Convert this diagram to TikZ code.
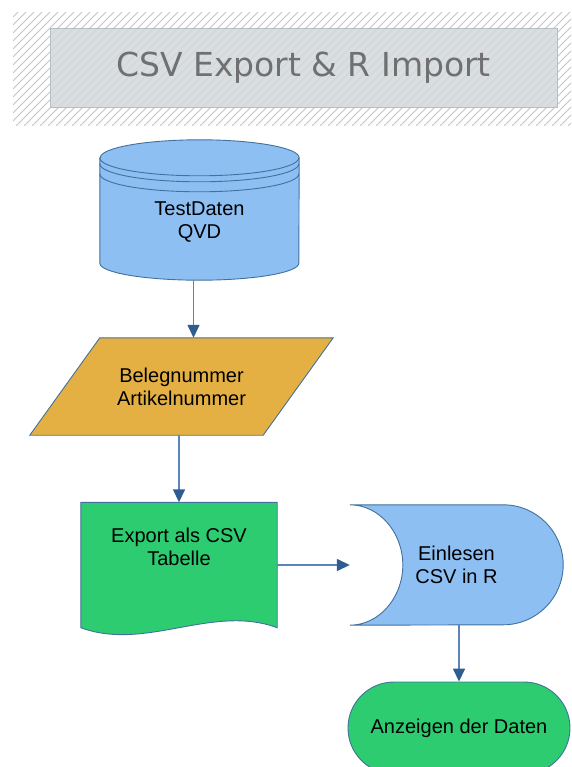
\documentclass[tikz,border=0pt]{standalone}
\usepackage{fontspec}
\setmainfont{Liberation Sans}
\newfontfamily\titlefont{DejaVu Sans}
\usepackage{tikz}
\usetikzlibrary{arrows.meta,positioning,calc}
\definecolor{dbblue}{HTML}{8EBFF3}
\definecolor{edgeblue}{HTML}{41719C}
\definecolor{linkblue}{HTML}{5B85B8}
\definecolor{tipblue}{HTML}{2F5D92}
\definecolor{gold}{HTML}{E5B043}
\definecolor{flowgreen}{HTML}{2ECC71}
\definecolor{titlefill}{HTML}{D3D8DB}
\definecolor{titleedge}{HTML}{B4BEC3}
\definecolor{hatchgray}{HTML}{C4C4C4}
\definecolor{titletext}{HTML}{707070}

\begin{document}
\begin{tikzpicture}[
  x=1pt, y=-1pt,
  font=\fontsize{20}{23}\selectfont,
  frame/.style={inner sep=0pt},
  outline/.style={draw=edgeblue, line width=0.9pt},
  txt/.style={align=center, inner sep=0pt},
  acc/.style={draw=linkblue, line width=1.5pt, -{Triangle[length=13pt,width=12pt,color=tipblue]}}
]
\clip (0,0) rectangle (571,767);

\begin{scope}
  \clip (13,12) rectangle (571,126);
  \foreach \i in {-120,-112,...,580}
    \draw[hatchgray, line width=0.8pt] (\i,126) -- ++(114,-114);
\end{scope}
\node[frame, draw=titleedge, fill=titlefill, fill opacity=0.85, text opacity=1,
  text=titletext, minimum width=507pt, minimum height=79pt,
  font=\titlefont\fontsize{33}{40}\selectfont] (title) at (303.5,67.5) {CSV Export \& R Import};

\node[frame, minimum width=199pt, minimum height=140pt] (db)     at (199.5,210)   {};
\node[frame, minimum width=303pt, minimum height=97pt]  (input)  at (181.5,386.5) {};
\node[frame, minimum width=196pt, minimum height=125pt] (export) at (179,565)     {};
\node[frame, minimum width=213pt, minimum height=120pt] (import) at (456.5,565)   {};

\path[outline, fill=dbblue] ($(db.north west)+(0,18)$) -- ($(db.south west)+(0,-17)$)
  arc[start angle=180, end angle=360, x radius=99.5pt, y radius=17pt]
  -- ($(db.north east)+(0,18)$)
  arc[start angle=0, end angle=180, x radius=99.5pt, y radius=18pt] -- cycle;
\draw[outline] ($(db.north west)+(0,18)$) arc[start angle=180, end angle=360, x radius=99.5pt, y radius=18pt];
\draw[outline] ($(db.north west)+(0,24)$) arc[start angle=180, end angle=360, x radius=99.5pt, y radius=18pt];
\draw[outline] ($(db.north west)+(0,34)$) arc[start angle=180, end angle=360, x radius=99.5pt, y radius=18pt];

\draw[outline, fill=gold] ($(input.north west)+(70,0)$) -- (input.north east)
  -- ($(input.south east)+(-70,0)$) -- (input.south west) -- cycle;

\draw[outline, fill=flowgreen] (export.south west) -- (export.north west) -- (export.north east)
  -- (export.south east) .. controls ($(export.south east)+(-65,-24)$) and ($(export.south west)+(65,24)$) .. (export.south west) -- cycle;

\draw[outline, fill=dbblue] (import.north west) -- ($(import.north east)+(-60,0)$)
  arc[start angle=90, end angle=-90, radius=60pt] -- (import.south west)
  .. controls ($(import.south west)+(29,0)$) and ($(import.west)+(53,33)$) .. ($(import.west)+(53,0)$)
  .. controls ($(import.west)+(53,-33)$) and ($(import.north west)+(29,0)$) .. (import.north west) -- cycle;

\node[outline, fill=flowgreen, rounded corners=46pt, minimum width=222pt, minimum height=92pt,
  inner sep=0pt] (show) at (459,728) {Anzeigen der Daten};

\node[txt] (dbtext)     at ($(db.center)+(0,12)$)      {TestDaten\\QVD};
\node[txt] (inputtext)  at (input.center)              {Belegnummer\\Artikelnummer};
\node[txt] (exporttext) at ($(export.center)+(0,-18)$) {Export als CSV\\Tabelle};
\node[txt] (importtext) at (import.center)             {Einlesen\\CSV in R};

\coordinate (dbout) at ($(db.south)+(-6,0)$);
\draw[acc] (dbout) -- (dbout |- input.north);
\draw[acc] (input.south -| export.north) -- (export.north);
\draw[acc] (export.east) -- (import.west);
\draw[acc] (import.south -| show.north) -- (show.north);
\end{tikzpicture}
\end{document}
